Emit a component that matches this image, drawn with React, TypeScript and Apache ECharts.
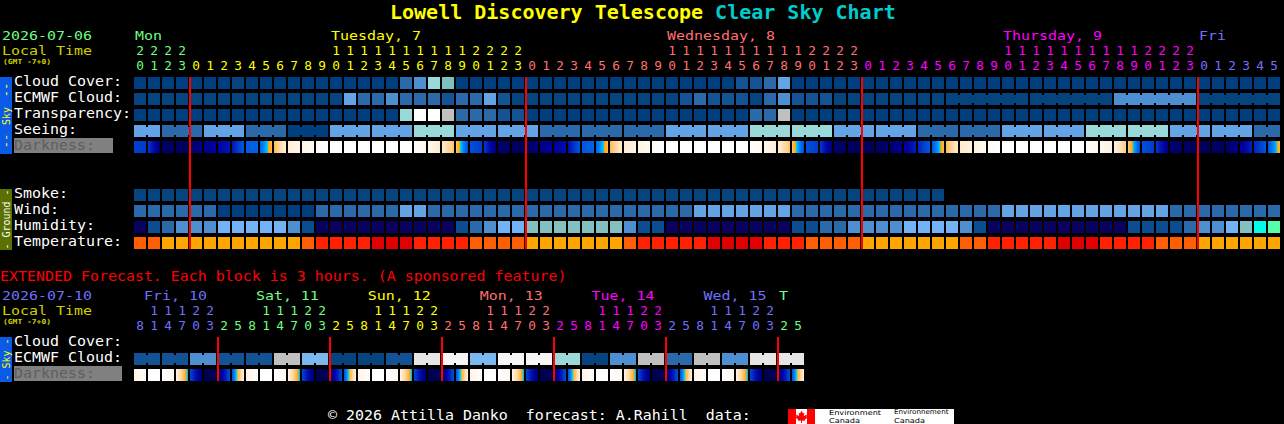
import React, { useEffect, useRef } from "react";
import * as echarts from "echarts";

const MONO = '"DejaVu Sans Mono"';
const GREEN = "#70ff80";
const YELLOW = "#ffff00";
const SALMON = "#ff7070";
const MAGENTA = "#ff00ff";
const PERI = "#7070ff";

// ---------- main forecast, one column per hour ----------
const hourUnits = [
  "0","1","2","3",
  "0","1","2","3","4","5","6","7","8","9","0","1","2","3","4","5","6","7","8","9","0","1","2","3",
  "0","1","2","3","4","5","6","7","8","9","0","1","2","3","4","5","6","7","8","9","0","1","2","3",
  "0","1","2","3","4","5","6","7","8","9","0","1","2","3","4","5","6","7","8","9","0","1","2","3",
  "0","1","2","3","4","5",
];
const hourTens = [
  "2","2","2","2",
  "","","","","","","","","","","1","1","1","1","1","1","1","1","1","1","2","2","2","2",
  "","","","","","","","","","","1","1","1","1","1","1","1","1","1","1","2","2","2","2",
  "","","","","","","","","","","1","1","1","1","1","1","1","1","1","1","2","2","2","2",
  "","","","","","",
];
const mainDayNames = ["Mon", "Tuesday, 7", "Wednesday, 8", "Thursday, 9", "Fri"];
const mainDayStartCols = [0, 14, 38, 62, 76];
const mainDayBreaks = [4, 28, 52, 76];
const mainDayColors = [GREEN, YELLOW, SALMON, MAGENTA, PERI];
const mainRows = ["Cloud Cover:", "ECMWF Cloud:", "Transparency:", "Seeing:", "Darkness:", " ", "  ", "Smoke:", "Wind:", "Humidity:", "Temperature:"];

const cloudCover = [
  0,0,0,0,0,0,0,5,0,0,
  0,0,0,0,0,0,0,0,0,20,
  30,70,60,0,0,0,0,0,0,0,
  0,0,0,0,0,0,0,0,0,0,
  0,0,0,10,10,20,40,0,0,0,
  0,0,0,0,0,0,0,0,0,0,
  0,0,0,0,0,0,0,0,0,0,
  0,0,0,0,0,0,0,0,0,0,
  0,0,
];
const ecmwfCloud = [
  5,5,5,5,5,5,5,5,5,5,
  5,5,5,5,5,40,20,20,30,20,
  20,20,10,20,20,40,10,5,5,5,
  5,5,5,5,5,5,5,5,5,10,
  20,10,10,10,5,20,30,10,10,10,
  5,5,5,5,5,5,5,5,5,5,
  5,5,5,5,5,5,5,5,5,5,
  30,30,30,30,30,30,5,5,5,5,
  5,5,
];
const ecmwfBlocks = [
  1,1,1,1,1,1,1,1,1,1,1,1,1,1,1,1,1,1,1,1,1,1,1,1,1,1,1,1,1,
  1,1,1,1,1,1,1,1,1,1,1,1,1,1,1,1,1,1,1,1,1,1,1,1,1,1,1,1,1,
  6,6,6,6,
];
const transparency = [
  0,0,0,0,0,0,0,0,0,0,
  0,0,0,0,0,0,0,0,0,70,
  100,100,80,20,20,20,10,10,0,0,
  0,0,0,0,0,0,0,0,0,0,
  0,0,0,0,20,20,80,0,0,0,
  0,0,0,0,0,0,0,0,0,0,
  0,0,0,0,0,0,0,0,0,0,
  0,0,0,0,0,0,0,0,0,0,
  0,0,
];
const seeing = [
  40,40,20,20,20,40,40,40,20,20,
  20,0,0,0,40,40,40,40,40,40,
  70,70,70,40,40,40,40,40,40,20,
  20,20,20,20,20,20,20,20,40,40,
  40,40,40,40,70,70,70,70,70,70,
  40,40,40,40,40,40,20,20,20,20,
  20,20,40,40,40,40,40,40,70,70,
  70,70,70,70,40,40,40,40,40,40,
  20,20,
];
const seeingBlocks = [2,3,3,3,3,3,3,3,3,3,3,3,3,3,3,3,3,3,3,3,3,3,3,3,3,3,3,2];
// darkness value at each column edge: 0 is daylight, 10 the darkest night
const darkness = [
  7.0,7.1,9.4,9.5,9.5,9.0,8.5,7.9,6.3,6.1,
  3.7,1.4,1.0,0.5,0,0,0,0,0,0,
  0,0.7,1.8,3.4,6.6,7.1,9.3,9.5,9.6,9.1,
  8.7,8.1,6.4,6.1,3.7,1.6,1.1,0.5,0,0,
  0,0,0,0,0,0.7,1.5,3.4,6.6,7.1,
  9.3,9.5,9.6,9.6,9.3,8.9,7.6,6.4,3.7,1.7,
  1.2,0.5,0,0,0,0,0,0,0,0.7,
  1.2,3.2,6.6,7.1,9.2,9.5,9.6,9.6,9.4,9.0,
  7.6,6.5,3.9,
];
const smoke = [
  5,5,5,5,5,5,5,5,5,5,
  5,5,5,5,5,5,5,5,5,5,
  5,5,5,5,5,5,5,5,5,5,
  5,5,5,5,5,5,5,5,5,5,
  5,5,5,5,5,5,5,5,5,5,
  5,5,5,5,5,5,5,5,
];
const wind = [
  20,20,20,20,20,20,0,0,0,0,
  0,0,0,20,20,20,20,20,20,40,
  40,20,20,20,20,20,20,20,20,20,
  20,20,20,20,20,20,20,20,20,20,
  40,40,40,40,40,40,40,20,20,20,
  20,20,20,20,20,20,20,20,20,20,
  20,20,40,40,40,40,40,40,40,40,
  40,40,40,40,20,20,20,20,20,20,
  20,20,
];
const humidity = [
  20,30,35,40,40,40,45,45,45,45,
  45,40,30,20,20,20,20,20,20,20,
  20,20,20,30,35,40,45,45,55,55,
  55,55,55,55,55,40,30,30,20,20,
  20,20,20,20,20,20,20,30,30,35,
  35,40,40,40,40,45,45,45,45,40,
  30,20,20,20,20,20,20,20,20,20,
  20,30,30,30,30,35,40,40,45,55,
  65,70,
];
const temperature = [
  22,22,25,25,25,25,25,25,25,25,
  25,25,22,19,19,19,19,16,16,16,
  19,19,19,19,22,22,22,22,25,25,
  25,25,25,25,25,22,19,19,19,19,
  19,16,16,16,16,19,19,19,22,22,
  22,22,25,25,25,25,25,25,25,22,
  22,19,19,19,19,19,16,16,16,19,
  19,19,19,22,22,22,25,25,25,25,
  25,25,
];

// ---------- extended forecast, one column per three hours ----------
const extUnits = [
  "8","1","4","7","0","3",
  "2","5","8","1","4","7","0","3",
  "2","5","8","1","4","7","0","3",
  "2","5","8","1","4","7","0","3",
  "2","5","8","1","4","7","0","3",
  "2","5","8","1","4","7","0","3",
  "2","5",
];
const extTens = [
  "","1","1","1","2","2",
  "","","","1","1","1","2","2",
  "","","","1","1","1","2","2",
  "","","","1","1","1","2","2",
  "","","","1","1","1","2","2",
  "","","","1","1","1","2","2",
  "","",
];
const extDayNames = ["Fri, 10", "Sat, 11", "Sun, 12", "Mon, 13", "Tue, 14", "Wed, 15", "T"];
const extDayBreaks = [6, 14, 22, 30, 38, 46];
const extDayColors = [PERI, GREEN, YELLOW, SALMON, MAGENTA, PERI, GREEN];
const extRows = ["Cloud Cover:", "ECMWF Cloud:", "Darkness:"];
const extEcmwf = [
  10,10,10,10,30,30,10,10,10,10,80,80,50,50,5,5,
  5,5,10,10,90,90,95,95,50,50,95,95,95,95,70,70,
  5,5,30,30,80,80,20,20,80,80,30,30,90,90,90,90,
];
const extBlocks = [2,2,2,2,2,2,2,2,2,2,2,2,2,2,2,2,2,2,2,2,2,2,2,2];
const extDarkStart = [
  1.0,0,0,1.0,6.8,9.8,9.6,6.5,
  1.0,0,0,1.0,6.8,9.8,9.6,6.5,
  1.0,0,0,1.0,6.8,9.8,9.6,6.5,
  1.0,0,0,1.0,6.8,9.8,9.6,6.5,
  1.0,0,0,1.0,6.8,9.8,9.6,6.5,
  1.0,0,0,1.0,6.8,9.8,9.6,6.5,
];
const extDarkEnd = [
  0.2,0,0.8,5.0,9.4,9.8,6.6,1.3,
  0.2,0,0.8,5.0,9.4,9.8,6.6,1.3,
  0.2,0,0.8,5.0,9.4,9.8,6.6,1.3,
  0.2,0,0.8,5.0,9.4,9.8,6.6,1.3,
  0.2,0,0.8,5.0,9.4,9.8,6.6,1.3,
  0.2,0,0.8,5.0,9.4,9.8,6.6,1.3,
];

// ---------- colour scales ----------
const cloudColors: Record<number, string> = {
  0: "#003f7f", 5: "#06447f", 10: "#135294", 20: "#2a6aab", 30: "#4d8fd0", 40: "#62a4e6",
  50: "#7ab8f0", 60: "#7fc0c0", 70: "#99d9d9", 80: "#c0c0c0", 90: "#e6e6e6", 95: "#f6f6f6", 100: "#ffffff",
};
const humidityColors: Record<number, string> = {
  20: "#0a0060", 30: "#0c4d92", 35: "#2a6aab", 40: "#4d8fd0", 45: "#72b2f6", 55: "#85c0c0", 65: "#00ffe6", 70: "#55ffaa",
};
const temperatureColors: Record<number, string> = {
  16: "#e00000", 19: "#ff2200", 22: "#ff5f00", 25: "#ffa500",
};
const darkStops: [number, number[]][] = [
  [0, [255, 255, 255]], [1, [255, 245, 230]], [2, [255, 230, 196]], [3, [255, 207, 140]],
  [4.45, [255, 165, 0]], [4.55, [0, 208, 255]], [5.2, [0, 144, 255]], [6, [0, 102, 232]],
  [7, [0, 64, 208]], [8, [0, 16, 176]], [8.6, [0, 0, 160]], [9, [0, 0, 136]],
  [9.5, [0, 0, 96]], [10, [0, 0, 72]],
];

function darkColor(v: number): string {
  for (let i = 1; i < darkStops.length; i++) {
    const [v1, c1] = darkStops[i];
    if (v <= v1) {
      const [v0, c0] = darkStops[i - 1];
      const t = (v - v0) / (v1 - v0);
      const c = c0.map((a, k) => Math.round(a + (c1[k] - a) * t));
      return `rgb(${c[0]},${c[1]},${c[2]})`;
    }
  }
  return "rgb(0,0,72)";
}

function joinFlags(blocks: number[]): number[] {
  const out: number[] = [];
  blocks.forEach((n) => {
    for (let k = 0; k < n; k++) out.push(k < n - 1 ? 1 : 0);
  });
  return out;
}

function cellBox(api: any, col: number, row: number) {
  const c = api.coord([col, row]);
  const s = api.size([1, 1]);
  return { x: c[0] - s[0] / 2 + 1, y: c[1] - s[1] / 2 + 2, w: s[0] - 2, h: s[1] - 4 };
}

function rowSeries(name: string, gridAxis: number, row: number, values: number[], palette: Record<number, string>, blocks?: number[]) {
  const joins = blocks ? joinFlags(blocks) : [];
  return {
    type: "custom",
    name,
    xAxisIndex: gridAxis,
    yAxisIndex: gridAxis === 0 ? 0 : 1,
    coordinateSystem: "cartesian2d",
    encode: { x: 0, y: 1 },
    silent: true,
    data: values.map((v, i) => [i, row, v, joins[i] || 0]),
    renderItem: (_p: any, api: any) => {
      const b = cellBox(api, api.value(0), api.value(1));
      const fill = palette[api.value(2) as number];
      const children: any[] = [{ type: "rect", shape: { x: b.x, y: b.y, width: b.w, height: b.h }, style: { fill } }];
      if (api.value(3)) {
        children.push({ type: "rect", shape: { x: b.x + b.w, y: b.y + 2, width: 2, height: b.h - 4 }, style: { fill } });
      }
      return { type: "group", children };
    },
  };
}

function darkSeries(name: string, gridAxis: number, row: number, starts: number[], ends: number[]) {
  return {
    type: "custom",
    name,
    xAxisIndex: gridAxis,
    yAxisIndex: gridAxis === 0 ? 0 : 1,
    coordinateSystem: "cartesian2d",
    encode: { x: 0, y: 1 },
    silent: true,
    data: starts.map((v, i) => [i, row, v, ends[i]]),
    renderItem: (_p: any, api: any) => {
      const b = cellBox(api, api.value(0), api.value(1));
      const a = api.value(2) as number;
      const z = api.value(3) as number;
      const stops = [];
      for (let k = 0; k <= 24; k++) {
        stops.push({ offset: k / 24, color: darkColor(a + ((z - a) * k) / 24) });
      }
      return {
        type: "rect",
        shape: { x: b.x, y: b.y, width: b.w, height: b.h },
        style: { fill: new echarts.graphic.LinearGradient(0, 0, 1, 0, stops) },
      };
    },
  };
}

function breakSeries(name: string, gridAxis: number, cols: number[], lastRow: number) {
  return {
    type: "custom",
    name,
    xAxisIndex: gridAxis,
    yAxisIndex: gridAxis === 0 ? 0 : 1,
    coordinateSystem: "cartesian2d",
    encode: { x: 0 },
    silent: true,
    z: 5,
    data: cols.map((c) => [c, 0]),
    renderItem: (_p: any, api: any) => {
      const col = api.value(0) as number;
      const top = cellBox(api, col, 0);
      const bottom = cellBox(api, col, lastRow);
      return {
        type: "rect",
        shape: { x: top.x - 1, y: top.y, width: 2, height: bottom.y + bottom.h - top.y },
        style: { fill: "#ff0000" },
      };
    },
  };
}

function colorByBreaks(breaks: number[], colors: string[]) {
  return (_v: any, i: number) => {
    let k = 0;
    while (k < breaks.length && i >= breaks[k]) k++;
    return colors[k];
  };
}

function hourAxis(gridIndex: number, data: string[], offset: number, color: any) {
  return {
    type: "category",
    gridIndex,
    position: "top",
    offset,
    data,
    axisLine: { show: false },
    axisTick: { show: false },
    splitLine: { show: false },
    axisLabel: { interval: 0, margin: 3, fontFamily: MONO, fontSize: 12.8, color, hideOverlap: false },
  };
}

function rowAxis(gridIndex: number, data: string[]) {
  return {
    type: "category",
    gridIndex,
    inverse: true,
    data,
    axisLine: { show: false },
    axisTick: { show: false },
    splitLine: { show: false },
    axisLabel: { show: false, interval: 0 },
  };
}

function txt(text: string, x: number, y: number, fill: string, size: number, extra: any = {}) {
  const { weight, align, family, ...rest } = extra;
  return {
    type: "text",
    x,
    y,
    silent: true,
    style: {
      text,
      fill,
      font: `${weight || "normal"} ${size}px ${family || MONO}`,
      align: align || "left",
      verticalAlign: "middle",
    },
    ...rest,
  };
}

// thin wide line of text: the glyphs keep a 9px advance at the given height
function wide(text: string, x: number, y: number, fill: string, size: number, extra: any = {}) {
  return txt(text, x, y, fill, size, { scaleX: 9 / (size * 0.602), ...extra });
}

function box(x: number, y: number, width: number, height: number, fill: string) {
  return { type: "rect", silent: true, shape: { x, y, width, height }, style: { fill } };
}

const mapleLeaf = [
  [0, -6], [-1.5, -3], [-3, -4], [-2.3, -0.5], [-5.5, -2], [-5, 0], [-6, 1], [-3, 3.5], [-3.5, 4.5], [-0.5, 4],
  [-0.5, 6.5], [0.5, 6.5], [0.5, 4], [3.5, 4.5], [3, 3.5], [6, 1], [5, 0], [5.5, -2], [2.3, -0.5], [3, -4], [1.5, -3],
];

function sideText(x: number, y: number, text: string, fill: string, size: number) {
  return txt(text, x, y, fill, size, { align: "center", rotation: Math.PI / 2 });
}

function rowLabels(rows: string[], top: number, darkWidth: number) {
  const out: any[] = [];
  rows.forEach((r, i) => {
    const y = top + 16 * i + 6.5;
    if (r === "Darkness:") {
      out.push(box(14, y - 7.5, darkWidth, 15, "#808080"));
      out.push(wide(r, 14, y, "#5e5e5e", 13.5));
    } else if (r.trim()) {
      out.push(wide(r, 14, y, "#ffffff", 13.5));
    }
  });
  return out;
}

function buildOption() {
  const logoFont = { family: '"DejaVu Sans"', scaleX: 1.2 };
  const elements: any[] = [
    wide("2026-07-06", 2, 35, GREEN, 12.8),
    wide("Local Time", 2, 50, "#d0d000", 12.8),
    txt("(GMT -7+0)", 3, 62, "#d0d000", 7, { weight: "bold", scaleX: 1.14 }),
    box(0, 77, 12, 77, "#0a5ae8"),
    sideText(6, 90, "--", YELLOW, 12),
    sideText(6, 116, "Sky", YELLOW, 10),
    sideText(6, 141, "--", YELLOW, 12),
    box(0, 189, 12, 61, "#5a7000"),
    sideText(6, 219.5, "- Ground -", "#ffffff", 10),
    wide("EXTENDED Forecast. Each block is 3 hours. (A sponsored feature)", 0, 276, "#ff0000", 14),
    wide("2026-07-10", 2, 295, PERI, 12.8),
    wide("Local Time", 2, 310, "#d0d000", 12.8),
    txt("(GMT -7+0)", 3, 322, "#d0d000", 7, { weight: "bold", scaleX: 1.14 }),
    box(0, 337, 12, 45, "#0a5ae8"),
    sideText(6, 359.5, "- Sky -", YELLOW, 10),
    wide("\u00a9 2026 Attilla Danko  forecast: A.Rahill  data:", 328, 415.5, "#ffffff", 14),
    box(788, 409, 166, 15, "#ffffff"),
    box(788, 409, 8, 15, "#ff0000"),
    box(807, 409, 8, 15, "#ff0000"),
    {
      type: "polygon",
      silent: true,
      x: 801.5,
      y: 416.5,
      shape: { points: mapleLeaf },
      style: { fill: "#ff0000" },
    },
    txt("Environment", 829, 412.5, "#000000", 6.8, logoFont),
    txt("Canada", 829, 420.5, "#000000", 6.8, logoFont),
    txt("Environnement", 894, 412.5, "#000000", 6.8, { ...logoFont, scaleX: 1.05 }),
    txt("Canada", 894, 420.5, "#000000", 6.8, logoFont),
    ...rowLabels(mainRows, 75, 99),
    ...rowLabels(extRows, 335, 108),
  ];
  mainDayNames.forEach((d, i) => {
    elements.push(wide(d, 135 + mainDayStartCols[i] * 14, 35, mainDayColors[i], 12.8));
  });
  extDayNames.forEach((d, i) => {
    elements.push(wide(d, i < 6 ? 144 + i * 111.9 : 779, 295, extDayColors[i], 12.8));
  });

  const mainColor = colorByBreaks(mainDayBreaks, mainDayColors);
  const extColor = colorByBreaks(extDayBreaks, extDayColors);

  return {
    animation: false,
    backgroundColor: "#000000",
    title: {
      left: 390,
      top: 2,
      padding: 0,
      text: "{a|Lowell Discovery Telescope }{b|Clear Sky Chart}",
      textStyle: {
        rich: {
          a: { color: "#ffff00", fontFamily: MONO, fontWeight: "bold", fontSize: 20 },
          b: { color: "#00cccc", fontFamily: MONO, fontWeight: "bold", fontSize: 20 },
        },
      },
    },
    grid: [
      { left: 133, top: 75, width: 1148, height: 176, containLabel: false },
      { left: 133, top: 335, width: 672, height: 48, containLabel: false },
    ],
    xAxis: [
      hourAxis(0, hourUnits, 0, mainColor),
      hourAxis(0, hourTens, 15, mainColor),
      hourAxis(1, extUnits, 0, extColor),
      hourAxis(1, extTens, 15, extColor),
    ],
    yAxis: [rowAxis(0, mainRows), rowAxis(1, extRows)],
    series: [
      rowSeries("Cloud Cover", 0, 0, cloudCover, cloudColors),
      rowSeries("ECMWF Cloud", 0, 1, ecmwfCloud, cloudColors, ecmwfBlocks),
      rowSeries("Transparency", 0, 2, transparency, cloudColors),
      rowSeries("Seeing", 0, 3, seeing, cloudColors, seeingBlocks),
      darkSeries("Darkness", 0, 4, darkness.slice(0, -1), darkness.slice(1)),
      rowSeries("Smoke", 0, 7, smoke, cloudColors),
      rowSeries("Wind", 0, 8, wind, cloudColors),
      rowSeries("Humidity", 0, 9, humidity, humidityColors),
      rowSeries("Temperature", 0, 10, temperature, temperatureColors),
      breakSeries("Midnight", 0, mainDayBreaks, 10),
      rowSeries("Extended ECMWF Cloud", 2, 1, extEcmwf, cloudColors, extBlocks),
      darkSeries("Extended Darkness", 2, 2, extDarkStart, extDarkEnd),
      breakSeries("Extended Midnight", 2, extDayBreaks, 2),
    ],
    graphic: { elements },
  };
}

export default function App() {
  const ref = useRef<HTMLDivElement>(null);
  useEffect(() => {
    document.body.style.margin = "0";
    document.body.style.background = "#000";
    const chart = echarts.init(ref.current!, undefined, { renderer: "svg" });
    chart.setOption(buildOption() as any);
    return () => chart.dispose();
  }, []);
  return <div ref={ref} style={{ width: 1284, height: 424, background: "#000" }} />;
}
